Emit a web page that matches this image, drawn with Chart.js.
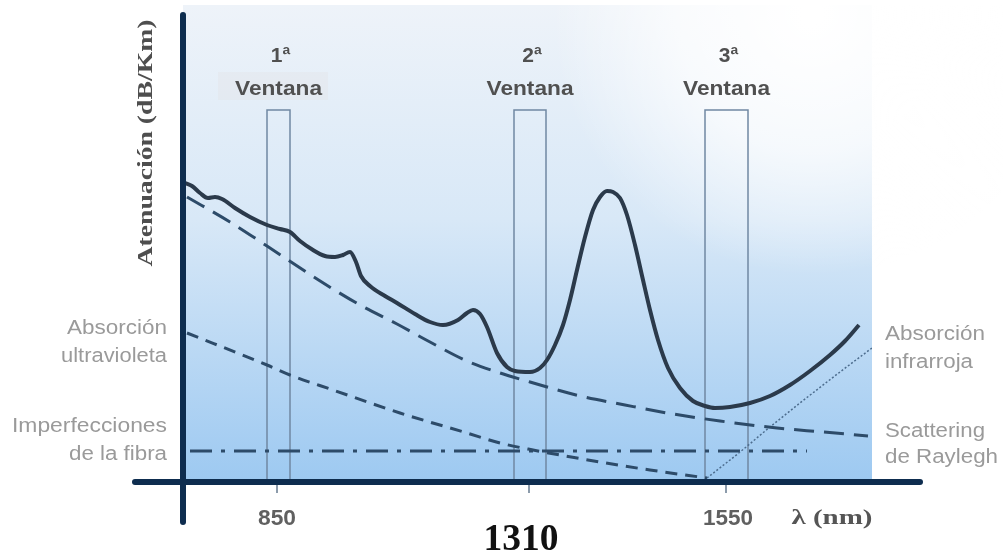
<!DOCTYPE html>
<html>
<head>
<meta charset="utf-8">
<script src="https://cdn.jsdelivr.net/npm/chart.js@4.4.0/dist/chart.umd.min.js"></script>
<style>
  html, body { margin: 0; padding: 0; background: #fff; }
  canvas { display: block; }
</style>
</head>
<body>
<canvas id="myChart" width="1003" height="553"></canvas>
<script>
// schematic chart: x = position along wavelength axis, y = attenuation (arbitrary units)
const mainX = [2,9,17,25,32,39,52,67,84,97,107,117,130,142,152,160,167,173,178,187,202,214,232,247,260,275,284,290,297,304,314,324,332,347,357,364,372,380,387,394,402,410,417,424,430,437,444,452,460,467,475,485,497,510,522,532,547,567,587,607,627,647,662,676];
const mainY = [299,296,289,284,285,283,274,265,257,253,250,241,232,226,225,227,230,220,206,196,186,179,168,160,157,162,169,172,168,155,129,115,111,110,114,122,137,157,182,212,245,272,285,291,290,284,267,237,202,172,142,114,94,81,76,74,75,79,86,97,111,127,141,157];

const rayleighX = [4,47,84,134,177,214,247,284,317,347,397,442,490,537,594,640,685];
const rayleighY = [285,260,236,203,177,158,140,121,109,100,86,77,68,61,54,50,46];

const uvX = [4,84,107,150,217,284,317,350,417,467,524];
const uvY = [149,117,107,92,69,49,39,32,20,12,4];

const irX = [524,557,587,617,657,689];
const irY = [4,30,55,79,110,134];

const imperfX = [7,624];
const imperfY = [31,31];

const windowLabels = ['1ª', '2ª', '3ª'];
const windowLeft = [84, 331, 522];
const windowRight = [107, 363, 565];
const windowTop = 372;

const tickPos = [94, 346, 543];
const tickLabels = ['850', '1310', '1550'];

function pts(xs, ys) { return xs.map((x, i) => ({ x: x, y: ys[i] })); }
function windowPts(i) {
  return [{ x: windowLeft[i], y: 0 }, { x: windowLeft[i], y: windowTop },
          { x: windowRight[i], y: windowTop }, { x: windowRight[i], y: 0 }];
}

function txt(ctx, s, x, y, font, color, align, w) {
  ctx.save();
  ctx.font = font;
  ctx.fillStyle = color;
  ctx.textAlign = align;
  ctx.textBaseline = 'alphabetic';
  const m = ctx.measureText(s).width;
  ctx.translate(x, y);
  if (w) ctx.scale(w / m, 1);
  ctx.fillText(s, 0, 0);
  ctx.restore();
}

const backgroundPlugin = {
  id: 'bg',
  beforeDraw(chart) {
    const { ctx, chartArea: a } = chart;
    ctx.save();
    const g = ctx.createLinearGradient(0, a.top, 0, a.bottom);
    g.addColorStop(0, '#eef3f9');
    g.addColorStop(0.45, '#d8e8f7');
    g.addColorStop(1, '#9dc9f1');
    ctx.fillStyle = g;
    ctx.fillRect(a.left, a.top, a.right - a.left, a.bottom - a.top);
    // whitish glow at top right
    const r = ctx.createRadialGradient(a.right - 60, a.top + 10, 10, a.right - 60, a.top + 10, 260);
    r.addColorStop(0, 'rgba(255,255,255,1)');
    r.addColorStop(0.5, 'rgba(255,255,255,0.7)');
    r.addColorStop(1, 'rgba(255,255,255,0)');
    ctx.fillStyle = r;
    ctx.fillRect(a.left, a.top, a.right - a.left + 140, a.bottom - a.top);
    // faint box behind first "Ventana"
    ctx.fillStyle = 'rgba(225,227,230,0.35)';
    ctx.fillRect(218, 72, 110, 28);
    ctx.restore();
  }
};

const axesPlugin = {
  id: 'axes',
  afterDatasetsDraw(chart) {
    const { ctx, chartArea: a, scales } = chart;
    const xs = scales.x;
    ctx.save();
    // tick marks
    ctx.strokeStyle = '#8c9bab';
    ctx.lineWidth = 2;
    tickPos.forEach(p => {
      const px = xs.getPixelForValue(p);
      ctx.beginPath(); ctx.moveTo(px, a.bottom + 3); ctx.lineTo(px, a.bottom + 11); ctx.stroke();
    });
    // axes
    ctx.strokeStyle = '#0e2d4f';
    ctx.lineWidth = 6;
    ctx.lineCap = 'round';
    ctx.beginPath(); ctx.moveTo(a.left, a.top + 10); ctx.lineTo(a.left, a.bottom + 40); ctx.stroke();
    ctx.beginPath(); ctx.moveTo(a.left - 48, a.bottom); ctx.lineTo(a.right + 48, a.bottom); ctx.stroke();
    ctx.restore();
  },
  afterDraw(chart) {
    const { ctx, chartArea: a, scales } = chart;
    const xs = scales.x;
    // window labels
    windowLabels.forEach((l, i) => {
      const c = xs.getPixelForValue((windowLeft[i] + windowRight[i]) / 2);
      txt(ctx, l, c + 2, 62, 'bold 21px "Liberation Sans", Arial', '#505050', 'center');
      txt(ctx, 'Ventana', c, 95, 'bold 21px "Liberation Sans", Arial', '#505050', 'center', 87);
    });
    // left annotations
    const grey = '#9a9a9a';
    const f = '20px "Liberation Sans", Arial';
    txt(ctx, 'Absorción', a.left - 16, 334, f, grey, 'right', 100);
    txt(ctx, 'ultravioleta', a.left - 16, 362, f, grey, 'right', 106);
    txt(ctx, 'Imperfecciones', a.left - 16, 432, f, grey, 'right', 155);
    txt(ctx, 'de la fibra', a.left - 16, 460, f, grey, 'right', 98);
    // right annotations
    txt(ctx, 'Absorción', a.right + 13, 340, f, grey, 'left', 100);
    txt(ctx, 'infrarroja', a.right + 13, 368, f, grey, 'left', 88);
    txt(ctx, 'Scattering', a.right + 13, 437, f, grey, 'left', 100);
    txt(ctx, 'de Raylegh', a.right + 13, 463, f, grey, 'left', 113);
    // tick labels
    txt(ctx, tickLabels[0], xs.getPixelForValue(tickPos[0]), 525, 'bold 22px "Liberation Sans", Arial', '#606060', 'center', 38);
    txt(ctx, tickLabels[2], xs.getPixelForValue(tickPos[2]) + 2, 525, 'bold 22px "Liberation Sans", Arial', '#606060', 'center', 50);
    txt(ctx, tickLabels[1], xs.getPixelForValue(tickPos[1]) - 8, 550, 'bold 38px "Liberation Serif", "Times New Roman", serif', '#111', 'center', 75);
    txt(ctx, 'λ (nm)', 832, 524, 'bold 22px "Liberation Serif", "Times New Roman", serif', '#555', 'center', 81);
    // y axis title
    ctx.save();
    ctx.translate(152, 143);
    ctx.rotate(-Math.PI / 2);
    ctx.font = 'bold 22px "Liberation Serif", "Times New Roman", serif';
    ctx.textBaseline = 'alphabetic';
    const m = ctx.measureText('Atenuación (dB/Km)').width;
    ctx.scale(247 / m, 1);
    ctx.fillStyle = '#4e4e4e';
    ctx.textAlign = 'center';
    ctx.fillText('Atenuación (dB/Km)', 0, 0);
    ctx.restore();
  }
};

const ctx = document.getElementById('myChart').getContext('2d');
const lineBase = { pointRadius: 0, fill: false, showLine: true };
const datasets = [
  Object.assign({ label: 'Atenuación total', data: pts(mainX, mainY), borderColor: '#2b3a4b', borderWidth: 4, cubicInterpolationMode: 'monotone', order: 1 }, lineBase),
  Object.assign({ label: 'Scattering de Raylegh', data: pts(rayleighX, rayleighY), borderColor: '#2d4b69', borderWidth: 3, borderDash: [20, 10], cubicInterpolationMode: 'monotone', order: 2 }, lineBase),
  Object.assign({ label: 'Absorción ultravioleta', data: pts(uvX, uvY), borderColor: '#2d4b69', borderWidth: 3, borderDash: [12, 8], cubicInterpolationMode: 'monotone', order: 3 }, lineBase),
  Object.assign({ label: 'Absorción infrarroja', data: pts(irX, irY), borderColor: '#4d6d8e', borderWidth: 1.5, borderDash: [2, 2], cubicInterpolationMode: 'monotone', order: 4 }, lineBase),
  Object.assign({ label: 'Imperfecciones de la fibra', data: pts(imperfX, imperfY), borderColor: '#2d4b69', borderWidth: 3, borderDash: [22, 9, 4, 9], order: 5 }, lineBase)
];
windowLabels.forEach((l, i) => {
  datasets.push(Object.assign({ label: l + ' Ventana', data: windowPts(i), borderColor: '#7088a2', borderWidth: 1.5, tension: 0, order: 10 }, lineBase));
});

new Chart(ctx, {
  type: 'scatter',
  data: { datasets: datasets },
  options: {
    responsive: false,
    animation: false,
    layout: { padding: { left: 183, right: 131, top: 5, bottom: 71 } },
    scales: {
      x: { type: 'linear', min: 0, max: 689, display: false },
      y: { type: 'linear', min: 0, max: 477, display: false }
    },
    plugins: { legend: { display: false }, tooltip: { enabled: false } }
  },
  plugins: [backgroundPlugin, axesPlugin]
});
</script>
</body>
</html>
